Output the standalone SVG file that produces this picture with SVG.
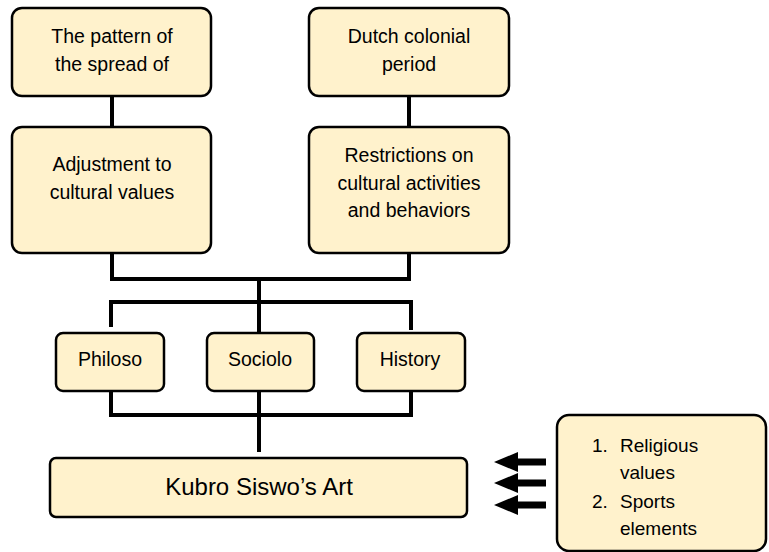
<svg xmlns="http://www.w3.org/2000/svg" width="769" height="552" viewBox="0 0 769 552">
<style>
.box{fill:#FFF2CC;stroke:#000;stroke-width:2.5}
.t{font-family:"Liberation Sans",Arial,sans-serif;font-size:19.5px;fill:#000;text-anchor:middle}
.l{font-family:"Liberation Sans",Arial,sans-serif;font-size:19px;fill:#000}
.c{fill:none;stroke:#000;stroke-width:4}
</style>
<rect width="769" height="552" fill="#fff"/>
<g id="connectors">
<path class="c" d="M112 96V128"/>
<path class="c" d="M409 96V128"/>
<path class="c" d="M112 253V279H409V253"/>
<path class="c" d="M259 279V333"/>
<path class="c" d="M111 327V302H411V330"/>
<path class="c" d="M111 391V415H411V391"/>
<path class="c" d="M259 391V452"/>
<g id="arrows" fill="#000">
<rect x="516" y="458.5" width="30" height="7"/>
<polygon points="494,462 518,452 518,472"/>
<rect x="516" y="479.5" width="30" height="7"/>
<polygon points="494,483 518,473 518,493"/>
<rect x="516" y="501.5" width="30" height="7"/>
<polygon points="494,505 518,495 518,515"/>
</g>
</g>
<g id="pattern">
<rect class="box" x="12" y="8" width="199" height="88" rx="10"/>
<text class="t" x="112" y="43">The pattern of</text>
<text class="t" x="112" y="71">the spread of</text>
</g>
<g id="adjustment">
<rect class="box" x="12" y="127" width="199" height="126" rx="10"/>
<text class="t" x="112" y="171">Adjustment to</text>
<text class="t" x="112" y="199">cultural values</text>
</g>
<g id="dutch">
<rect class="box" x="309" y="8" width="200" height="88" rx="10"/>
<text class="t" x="409" y="43">Dutch colonial</text>
<text class="t" x="409" y="71">period</text>
</g>
<g id="restrictions">
<rect class="box" x="309" y="127" width="200" height="126" rx="10"/>
<text class="t" x="409" y="162">Restrictions on</text>
<text class="t" x="409" y="190">cultural activities</text>
<text class="t" x="409" y="217">and behaviors</text>
</g>
<g id="philoso">
<rect class="box" x="56" y="333" width="108" height="58" rx="7"/>
<text class="t" x="110" y="366">Philoso</text>
</g>
<g id="sociolo">
<rect class="box" x="207" y="333" width="107" height="58" rx="7"/>
<text class="t" x="260" y="366">Sociolo</text>
</g>
<g id="history">
<rect class="box" x="357" y="333" width="108" height="58" rx="7"/>
<text class="t" x="410" y="366">History</text>
</g>
<g id="kubro">
<rect class="box" x="50" y="458" width="417" height="59" rx="6"/>
<text class="t" x="259" y="495" style="font-size:24px">Kubro Siswo’s Art</text>
</g>
<g id="elements">
<rect class="box" x="557" y="415" width="209" height="136" rx="12"/>
<text class="l" x="592" y="452">1.</text>
<text class="l" x="620" y="452">Religious</text>
<text class="l" x="620" y="479">values</text>
<text class="l" x="592" y="508">2.</text>
<text class="l" x="620" y="508">Sports</text>
<text class="l" x="620" y="535">elements</text>
</g>
</svg>
